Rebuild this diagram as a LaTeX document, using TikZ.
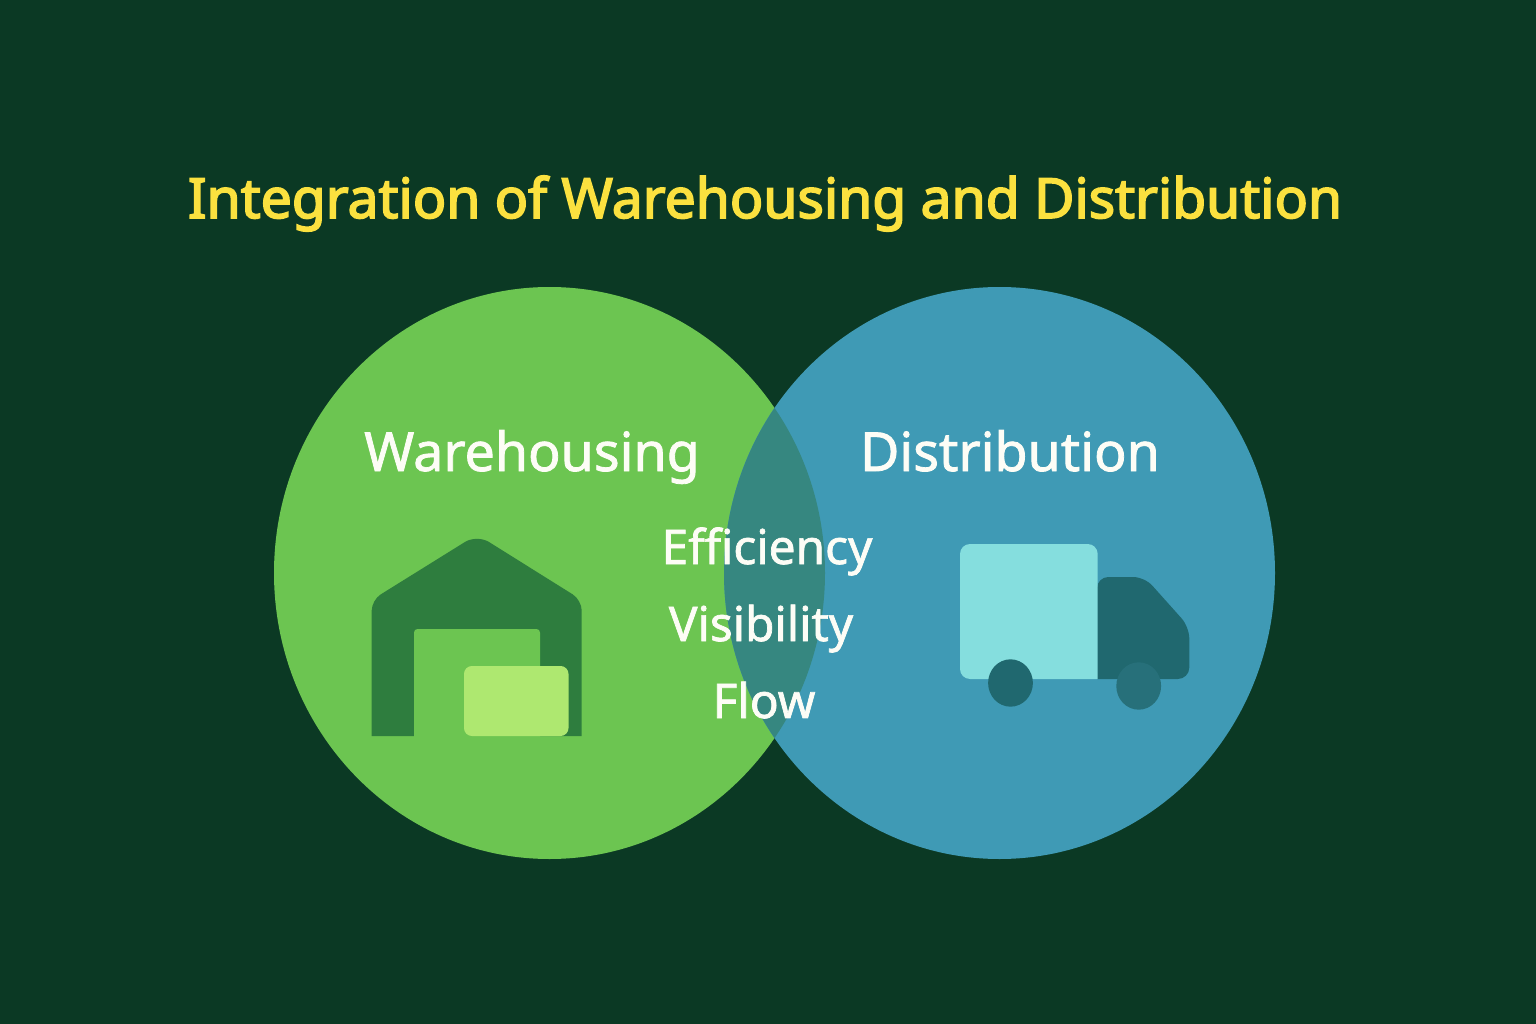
\documentclass[tikz,border=0pt]{standalone}
\usepackage{fontspec}
\setmainfont{Noto Sans}
\newfontfamily\titlefont[FakeBold=3]{Noto Sans}
\newfontfamily\labelfont[FakeBold=1.5]{Noto Sans}
\usetikzlibrary{positioning}

\definecolor{bgcolor}{HTML}{0B3924}
\definecolor{titlecolor}{HTML}{FBE13F}
\definecolor{textcolor}{HTML}{FDFDF6}
\definecolor{leftcolor}{HTML}{6CC551}
\definecolor{rightcolor}{HTML}{3F9AB5}
\definecolor{overlapcolor}{HTML}{368780}
\definecolor{housecolor}{HTML}{2E7D3E}
\definecolor{cratecolor}{HTML}{AEE870}
\definecolor{boxcolor}{HTML}{85DEDE}
\definecolor{cabcolor}{HTML}{20686F}
\definecolor{wheelcolor}{HTML}{27707A}

\begin{document}
\begin{tikzpicture}[
            x = 0.02cm, % one pixel of the reference
            y = -0.02cm,
            text = textcolor,
            inner sep = 0pt
        ]

        \tikzset{
            titlelabel/.style = {anchor = base, font = \titlefont\fontsize{31.45}{31.45}\selectfont, text = titlecolor},
            setlabel/.style = {anchor = base, font = \labelfont\fontsize{30.6}{30.6}\selectfont},
            sharedlabel/.style = {anchor = base, font = \labelfont\fontsize{27.2}{27.2}\selectfont},
            wheel/.style = {x radius = 22.4, y radius = 23.7}
        }

        % background
        \fill[bgcolor] (0,0) rectangle (1536,1024);

        % the two sets and their overlap
        \fill[leftcolor] (549.5,573) ellipse [x radius = 275.5, y radius = 286];
        \fill[rightcolor] (999.5,573) ellipse [x radius = 275.5, y radius = 286];
        \begin{scope}
            \clip (549.5,573) ellipse [x radius = 275.5, y radius = 286];
            \fill[overlapcolor] (999.5,573) ellipse [x radius = 275.5, y radius = 286];
        \end{scope}

        % warehouse
        \fill[housecolor, rounded corners = 6pt] (371.7,736) -- (371.7,600)
            [rounded corners = 8pt] -- (477,534.5)
            [rounded corners = 6pt] -- (581.7,600) -- (581.7,736);
        \fill[leftcolor, rounded corners = 2pt] (414,737) -- (414,629) -- (540,629) -- (540,737);
        \fill[cratecolor, rounded corners = 4.5pt] (464,666) rectangle (568.5,736);

        % truck
        \fill[cabcolor, rounded corners = 6.5pt] (1097,679) -- (1097,577) -- (1144.6,577)
            -- (1189.3,627) -- (1189.3,679) -- (1097,679);
        \fill[boxcolor, rounded corners = 5.7pt] (1097.7,679) -- (960,679) -- (960,544)
            -- (1097.7,544) -- (1097.7,679);
        \fill[cabcolor] (1010.5,683) ellipse [wheel];
        \fill[wheelcolor] (1138.7,686) ellipse [wheel];

        % labels
        \node[titlelabel] (title) at (765,218) {Integration of Warehousing and Distribution};
        \node[setlabel] (warehousing) at (532,471) {Warehousing};
        \node[setlabel] (distribution) at (1010,471) {Distribution};
        \node[sharedlabel] (efficiency) at (767,564) {Efficiency};
        \node[sharedlabel] (visibility) at (761,641) {Visibility};
        \node[sharedlabel] (flow) at (764,718) {Flow};

  \end{tikzpicture}
\end{document}
